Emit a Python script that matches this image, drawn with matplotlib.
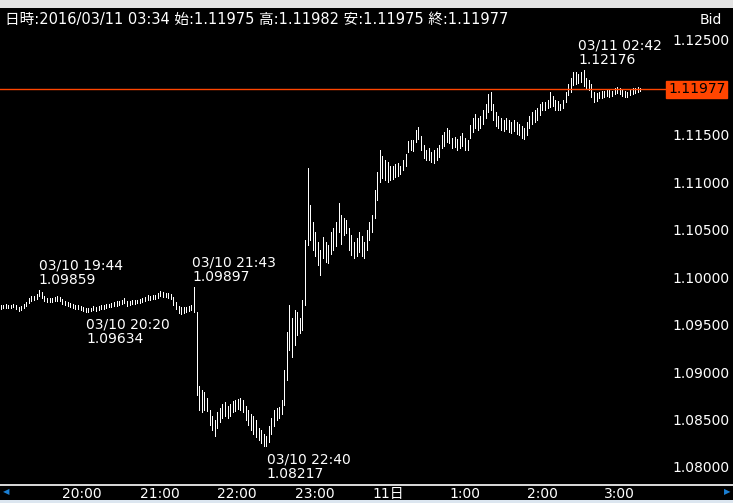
import numpy as np
import matplotlib
matplotlib.use("Agg")
import matplotlib.pyplot as plt
from matplotlib.patches import Rectangle
from matplotlib.lines import Line2D
import matplotlib.transforms as mtransforms

plt.rcParams['font.family'] = ['DejaVu Sans', 'Noto Sans CJK JP']

# EURUSD M2 bars, first bar 03/10 19:12, minutes counted from 03/10 20:00
bar_step = 2
first_bar = -48

highs = [
    1.0971, 1.0971, 1.0972, 1.0971, 1.0971, 1.0972, 1.0971, 1.0968, 1.0970, 1.0972,
    1.0974, 1.0978, 1.0980, 1.0980, 1.0982, 1.0986, 1.0984, 1.0980, 1.0978, 1.0978,
    1.0978, 1.0979, 1.0980, 1.0979, 1.0977, 1.0975, 1.0974, 1.0973, 1.0972, 1.0971,
    1.0971, 1.0970, 1.0968, 1.0967, 1.0967, 1.0967, 1.0970, 1.0968, 1.0970, 1.0971,
    1.0971, 1.0972, 1.0972, 1.0973, 1.0974, 1.0975, 1.0975, 1.0976, 1.0978, 1.0975,
    1.0975, 1.0976, 1.0976, 1.0976, 1.0977, 1.0978, 1.0979, 1.0981, 1.0980, 1.0981,
    1.0981, 1.0983, 1.0985, 1.0984, 1.0983, 1.0983, 1.0982, 1.0979, 1.0974, 1.0970,
    1.0968, 1.0968, 1.0968, 1.0970, 1.0971, 1.0990, 1.0963, 1.0885, 1.0881, 1.0879,
    1.0873, 1.0860, 1.0854, 1.0850, 1.0858, 1.0862, 1.0866, 1.0868, 1.0864, 1.0866,
    1.0869, 1.0871, 1.0872, 1.0873, 1.0871, 1.0864, 1.0860, 1.0856, 1.0854, 1.0850,
    1.0841, 1.0839, 1.0835, 1.0833, 1.0843, 1.0852, 1.0860, 1.0862, 1.0863, 1.0871,
    1.0902, 1.0942, 1.0971, 1.0957, 1.0965, 1.0963, 1.0957, 1.0976, 1.1039, 1.1115,
    1.1076, 1.1058, 1.1047, 1.1037, 1.1028, 1.1042, 1.1037, 1.1034, 1.1047, 1.1052,
    1.1058, 1.1078, 1.1065, 1.1062, 1.1060, 1.1052, 1.1044, 1.1037, 1.1041, 1.1047,
    1.1043, 1.1037, 1.1050, 1.1058, 1.1065, 1.1092, 1.1111, 1.1134, 1.1127, 1.1123,
    1.1121, 1.1117, 1.1117, 1.1119, 1.1120, 1.1117, 1.1123, 1.1129, 1.1143, 1.1144,
    1.1144, 1.1155, 1.1158, 1.1148, 1.1139, 1.1134, 1.1136, 1.1132, 1.1134, 1.1136,
    1.1139, 1.1150, 1.1153, 1.1157, 1.1155, 1.1146, 1.1147, 1.1145, 1.1148, 1.1152,
    1.1146, 1.1144, 1.1160, 1.1167, 1.1172, 1.1167, 1.1169, 1.1176, 1.1182, 1.1193,
    1.1195, 1.1182, 1.1174, 1.1169, 1.1167, 1.1165, 1.1167, 1.1165, 1.1163, 1.1165,
    1.1163, 1.1161, 1.1159, 1.1157, 1.1163, 1.1169, 1.1174, 1.1176, 1.1178, 1.1182,
    1.1184, 1.1184, 1.1186, 1.1195, 1.1191, 1.1186, 1.1185, 1.1182, 1.1186, 1.1195,
    1.1203, 1.1210, 1.1216, 1.1216, 1.1214, 1.1216, 1.1218, 1.1209, 1.1207, 1.1203,
    1.1195, 1.1194, 1.1195, 1.1196, 1.1196, 1.1197, 1.1197, 1.1196, 1.1199, 1.1200,
    1.1199, 1.1197, 1.1196, 1.1195, 1.1197, 1.1199, 1.1199, 1.1200, 1.1199,
]

lows = [
    1.0966, 1.0967, 1.0967, 1.0967, 1.0967, 1.0968, 1.0966, 1.0964, 1.0965, 1.0967,
    1.0970, 1.0973, 1.0975, 1.0976, 1.0977, 1.0980, 1.0978, 1.0975, 1.0974, 1.0974,
    1.0974, 1.0975, 1.0975, 1.0975, 1.0972, 1.0971, 1.0970, 1.0968, 1.0967, 1.0966,
    1.0966, 1.0965, 1.0964, 1.0963, 1.0963, 1.0964, 1.0965, 1.0964, 1.0965, 1.0966,
    1.0966, 1.0967, 1.0968, 1.0968, 1.0970, 1.0970, 1.0971, 1.0972, 1.0973, 1.0970,
    1.0971, 1.0972, 1.0972, 1.0973, 1.0973, 1.0974, 1.0975, 1.0976, 1.0976, 1.0977,
    1.0977, 1.0978, 1.0980, 1.0979, 1.0979, 1.0978, 1.0977, 1.0971, 1.0966, 1.0962,
    1.0961, 1.0962, 1.0963, 1.0964, 1.0965, 1.0963, 1.0876, 1.0860, 1.0858, 1.0860,
    1.0859, 1.0844, 1.0839, 1.0833, 1.0841, 1.0847, 1.0852, 1.0854, 1.0852, 1.0854,
    1.0858, 1.0859, 1.0861, 1.0860, 1.0858, 1.0850, 1.0844, 1.0839, 1.0835, 1.0832,
    1.0828, 1.0825, 1.0822, 1.0822, 1.0826, 1.0835, 1.0843, 1.0850, 1.0852, 1.0856,
    1.0865, 1.0892, 1.0923, 1.0916, 1.0928, 1.0939, 1.0941, 1.0944, 1.0971, 1.1034,
    1.1039, 1.1028, 1.1022, 1.1013, 1.1002, 1.1020, 1.1016, 1.1015, 1.1024, 1.1028,
    1.1033, 1.1047, 1.1035, 1.1044, 1.1046, 1.1028, 1.1023, 1.1020, 1.1022, 1.1026,
    1.1022, 1.1020, 1.1028, 1.1039, 1.1047, 1.1062, 1.1081, 1.1100, 1.1104, 1.1102,
    1.1100, 1.1102, 1.1103, 1.1105, 1.1106, 1.1108, 1.1113, 1.1117, 1.1132, 1.1134,
    1.1133, 1.1142, 1.1145, 1.1134, 1.1125, 1.1123, 1.1123, 1.1121, 1.1120, 1.1123,
    1.1126, 1.1136, 1.1138, 1.1142, 1.1141, 1.1136, 1.1137, 1.1134, 1.1136, 1.1138,
    1.1134, 1.1134, 1.1146, 1.1153, 1.1157, 1.1155, 1.1157, 1.1161, 1.1167, 1.1174,
    1.1176, 1.1165, 1.1159, 1.1157, 1.1155, 1.1154, 1.1156, 1.1153, 1.1152, 1.1154,
    1.1151, 1.1150, 1.1146, 1.1145, 1.1150, 1.1157, 1.1161, 1.1163, 1.1165, 1.1171,
    1.1176, 1.1176, 1.1178, 1.1179, 1.1180, 1.1176, 1.1176, 1.1176, 1.1178, 1.1184,
    1.1192, 1.1195, 1.1202, 1.1203, 1.1204, 1.1205, 1.1201, 1.1199, 1.1197, 1.1190,
    1.1184, 1.1185, 1.1188, 1.1188, 1.1190, 1.1191, 1.1190, 1.1191, 1.1193, 1.1194,
    1.1193, 1.1191, 1.1190, 1.1190, 1.1192, 1.1193, 1.1194, 1.1195, 1.1196,
]

last_price = 1.11977
header = "日時:2016/03/11 03:34 始:1.11975 高:1.11982 安:1.11975 終:1.11977"

# extremes marked on chart: (label, minute from 20:00, price, below?)
marks = [
    ("03/10 19:44", -16, 1.09859, False),
    ("03/10 20:20", 20, 1.09634, True),
    ("03/10 21:43", 103, 1.09897, False),
    ("03/10 22:40", 160, 1.08217, True),
    ("03/11 02:42", 402, 1.12176, False),
]

price_ticks = [1.080, 1.085, 1.090, 1.095, 1.100, 1.105, 1.110, 1.115, 1.125]
time_ticks = [0, 60, 120, 180, 240, 300, 360, 420]
time_labels = ["20:00", "21:00", "22:00", "23:00", "11日", "1:00", "2:00", "3:00"]

W, H = 733, 503
fig = plt.figure(figsize=(W / 100, H / 100), dpi=100, facecolor='black')

ax_l, ax_r = 0, 668
ax_t, ax_b = 8, 484
ax = fig.add_axes([ax_l / W, (H - ax_b) / H, (ax_r - ax_l) / W, (ax_b - ax_t) / H])
ax.set_facecolor('black')
for s in ax.spines.values():
    s.set_visible(False)

x = first_bar + bar_step * np.arange(len(highs))
ax.vlines(x, lows, highs, color='white', lw=0.72, antialiased=False)

ax.set_xlim(-48.4, 469.4)
ax.set_ylim(1.07821, 1.12832)

ax.axhline(last_price, color='#ff4500', lw=1.0)

ax.yaxis.tick_right()
ax.set_yticks(price_ticks)
ax.set_yticklabels(["%.5f" % p for p in price_ticks])
ax.tick_params(axis='y', length=0, pad=3, labelsize=10, labelcolor='white')
ax.set_xticks(time_ticks)
ax.set_xticklabels(time_labels, ha='left')
ax.tick_params(axis='x', length=0, pad=2, labelsize=10, labelcolor='white')

tr = mtransforms.blended_transform_factory(ax.transAxes, ax.transData)
ax.text(1.0, last_price, "%.5f" % last_price, transform=tr, ha='left', va='center',
        fontsize=10, color='black', clip_on=False,
        bbox=dict(boxstyle='square,pad=0.12', fc='#ff4500', ec='#ff4500'))

for lab, m, p, below in marks:
    if below:
        ax.annotate("%s\n%.5f" % (lab, p), xy=(m, p), xytext=(-2, -6),
                    textcoords='offset pixels', ha='left', va='top',
                    fontsize=10, color='white', linespacing=1.05)
    else:
        ax.annotate("%s\n%.5f" % (lab, p), xy=(m, p), xytext=(-3, 3),
                    textcoords='offset pixels', ha='left', va='bottom',
                    fontsize=10, color='white', linespacing=1.05)

# window chrome
fig.patches.append(Rectangle((0, (H - 8) / H), 1, 8 / H, transform=fig.transFigure,
                             fc='#e3e3e3', ec='none'))
fig.patches.append(Rectangle((0, 0), 1, 3 / H, transform=fig.transFigure,
                             fc='#dce6f0', ec='none'))
fig.add_artist(Line2D([0, 1], [(H - 484.5) / H] * 2, color='white', lw=1.2,
                      transform=fig.transFigure))

fig.text(5 / W, (H - 19) / H, header, color='white', fontsize=10.5, va='center', ha='left')
fig.text(722 / W, (H - 20) / H, "Bid", color='white', fontsize=10, va='center', ha='right')
fig.text(6 / W, (H - 492) / H, "◀", color='#1a7fd4', fontsize=6, va='center', ha='center')
fig.text(727 / W, (H - 492) / H, "▶", color='#1a7fd4', fontsize=6, va='center', ha='center')

fig.savefig("out.png", dpi=100, facecolor='black')
